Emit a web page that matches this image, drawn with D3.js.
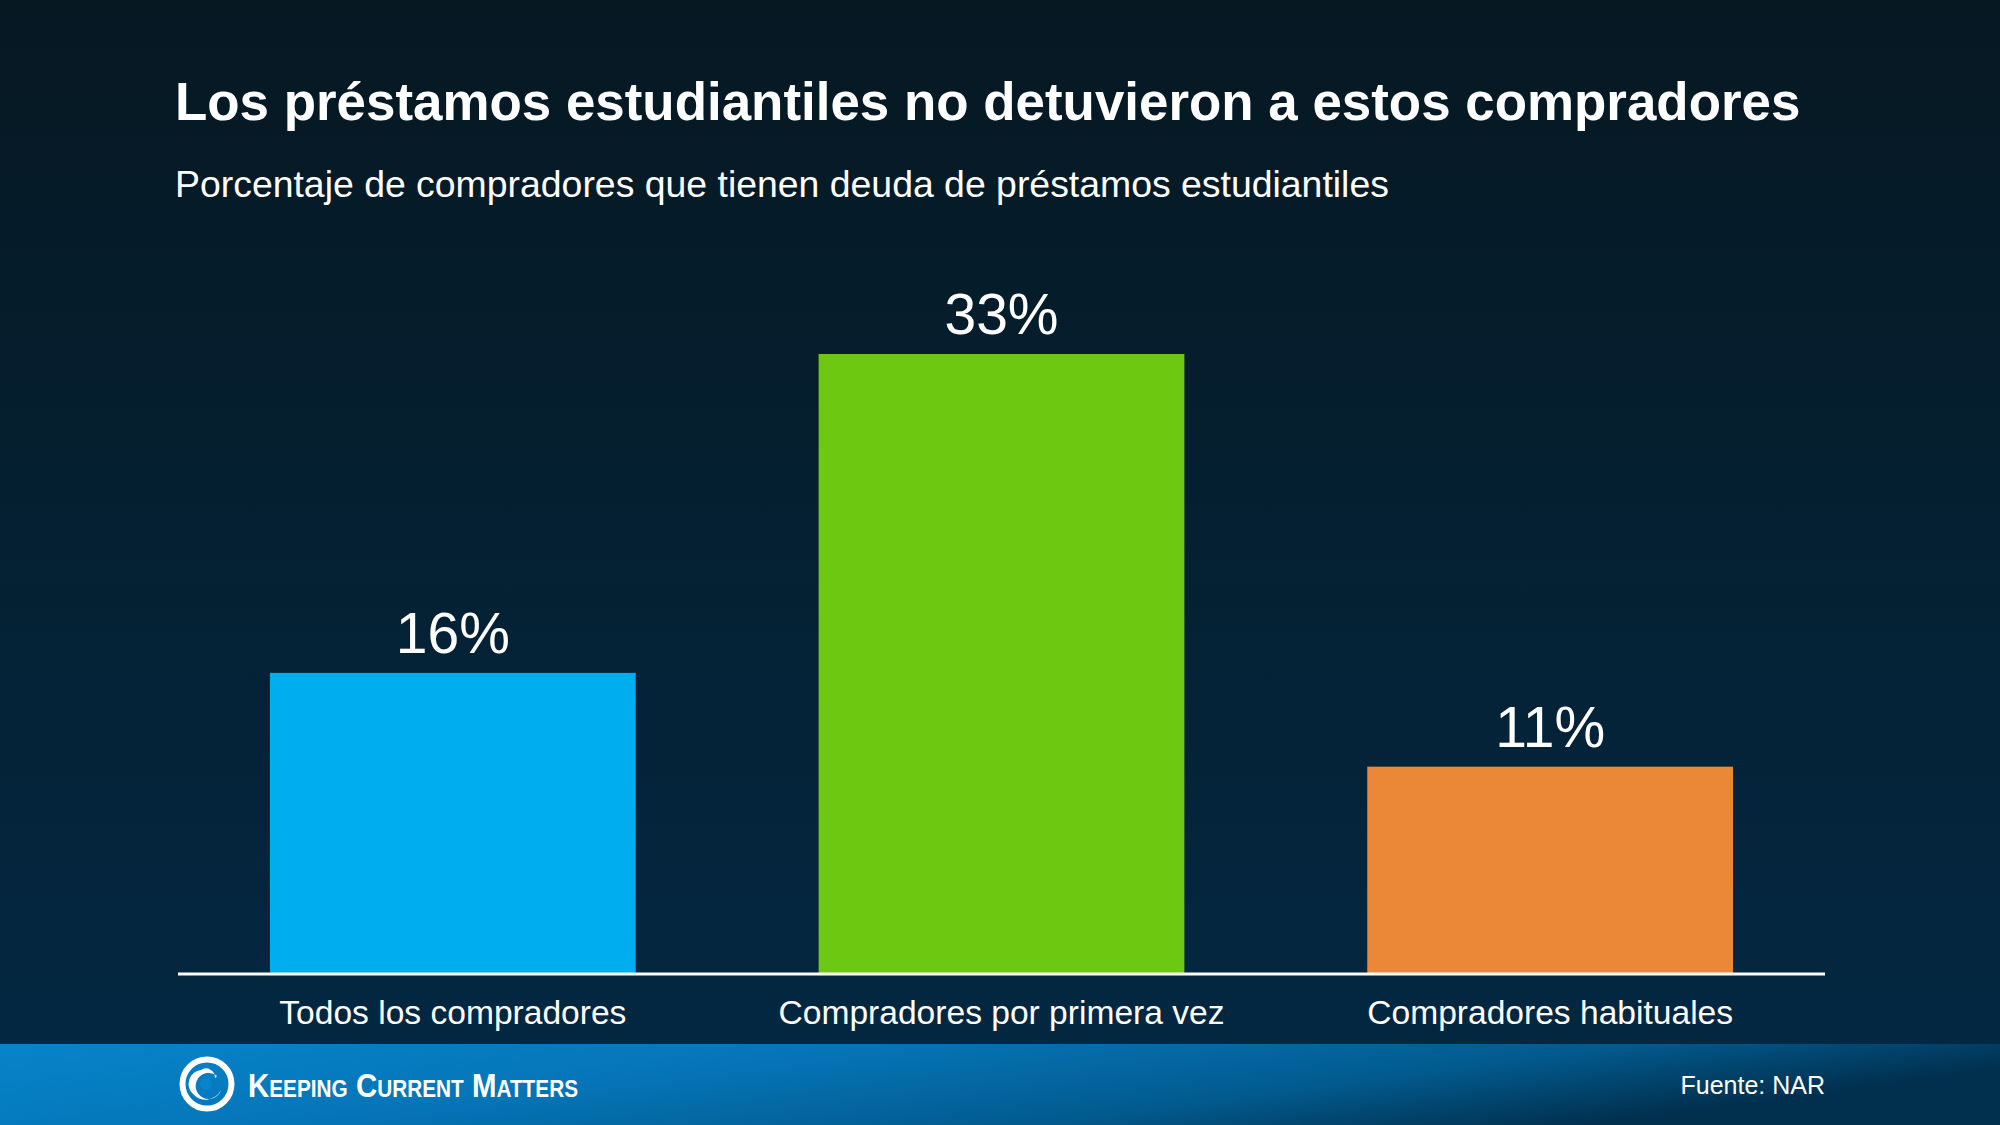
<!DOCTYPE html>
<html>
<head>
<meta charset="utf-8">
<script src="https://cdn.jsdelivr.net/npm/d3@7"></script>
<style>
  html, body { margin: 0; padding: 0; background: #061923; }
  svg { display: block; }
  text { font-family: "Liberation Sans", Arial, sans-serif; }
</style>
</head>
<body>
<svg id="chart" width="2000" height="1125"></svg>
<script>
const categories = ["Todos los compradores", "Compradores por primera vez", "Compradores habituales"];
const values = [16, 33, 11];
const valueLabels = ["16%", "33%", "11%"];
const barColors = ["#00AEEF", "#6CC811", "#EB8837"];
const titleText = "Los préstamos estudiantiles no detuvieron a estos compradores";
const subtitleText = "Porcentaje de compradores que tienen deuda de préstamos estudiantiles";
const sourceText = "Fuente: NAR";
const brandText = "Keeping Current Matters";

const W = 2000, H = 1125;
const svg = d3.select("#chart");
const defs = svg.append("defs");

const bg = defs.append("linearGradient").attr("id", "bg").attr("x1", 0).attr("y1", 0).attr("x2", 0).attr("y2", 1);
bg.append("stop").attr("offset", "0%").attr("stop-color", "#061822");
bg.append("stop").attr("offset", "100%").attr("stop-color", "#032944");

const ft = defs.append("linearGradient").attr("id", "ft").attr("x1", 0).attr("y1", 0).attr("x2", 1).attr("y2", 0.3);
ft.append("stop").attr("offset", "0%").attr("stop-color", "#0784CA");
ft.append("stop").attr("offset", "40%").attr("stop-color", "#0575B8");
ft.append("stop").attr("offset", "75%").attr("stop-color", "#025A8E");
ft.append("stop").attr("offset", "100%").attr("stop-color", "#01304F");

svg.append("rect").attr("width", W).attr("height", H).attr("fill", "url(#bg)");

// Titles
svg.append("text").attr("x", 175).attr("y", 120)
  .attr("font-size", 52.9).attr("font-weight", "bold").attr("fill", "#ffffff")
  .text(titleText);
svg.append("text").attr("x", 175).attr("y", 197)
  .attr("font-size", 37.4).attr("fill", "#ffffff")
  .text(subtitleText);

// Scales
const x = d3.scaleBand().domain(categories).range([178, 1825])
  .paddingInner(1/3).paddingOuter(0.1676);
const y = d3.scaleLinear().domain([0, 33]).range([973, 354]);

// Bars
svg.append("g").selectAll("rect").data(categories).join("rect")
  .attr("x", d => x(d))
  .attr("y", (d, i) => y(values[i]))
  .attr("width", x.bandwidth())
  .attr("height", (d, i) => y(0) - y(values[i]))
  .attr("fill", (d, i) => barColors[i]);

// Value labels
svg.append("g").selectAll("text").data(categories).join("text")
  .attr("x", d => x(d) + x.bandwidth() / 2)
  .attr("y", (d, i) => y(values[i]) - 20)
  .attr("text-anchor", "middle")
  .attr("font-size", 57).attr("fill", "#ffffff")
  .text((d, i) => valueLabels[i]);

// Axis
const axis = svg.append("g").attr("transform", `translate(0, ${y(0)})`)
  .call(d3.axisBottom(x).tickSize(0).tickPadding(0));
axis.select(".domain").attr("stroke", "#ffffff").attr("stroke-width", 3)
  .attr("d", "M178,1H1825");
axis.selectAll(".tick text")
  .attr("font-family", "'Liberation Sans', Arial, sans-serif")
  .attr("font-size", 33.6).attr("fill", "#ffffff")
  .attr("dy", null).attr("y", 51);

// Footer
svg.append("rect").attr("x", 0).attr("y", 1044).attr("width", W).attr("height", H - 1044).attr("fill", "url(#ft)");

// Logo icon (swirl)
const logo = svg.append("g").attr("transform", "translate(207,1084)");
logo.append("circle").attr("r", 24.5).attr("fill", "none").attr("stroke", "#ffffff").attr("stroke-width", 6);
logo.append("path")
  .attr("d", "M 10 -8 A 13 13 0 1 0 14 6 A 17 17 0 0 1 -14 10 A 14 14 0 0 1 -6 -14 A 9 9 0 0 1 8 -6 Z")
  .attr("fill", "#ffffff");
logo.append("circle").attr("r", 6).attr("cx", -1).attr("cy", 0).attr("fill", "#0784CA");

svg.append("text").attr("x", 248).attr("y", 1097)
  .attr("font-family", "'Open Sans', sans-serif").attr("font-weight", 600)
  .attr("font-size", 34).style("font-variant", "small-caps")
  .attr("fill", "#ffffff")
  .attr("textLength", 330).attr("lengthAdjust", "spacingAndGlyphs")
  .text(brandText);

svg.append("text").attr("x", 1825).attr("y", 1094).attr("text-anchor", "end")
  .attr("font-size", 25).attr("fill", "#ffffff").text(sourceText);
</script>
</body>
</html>
